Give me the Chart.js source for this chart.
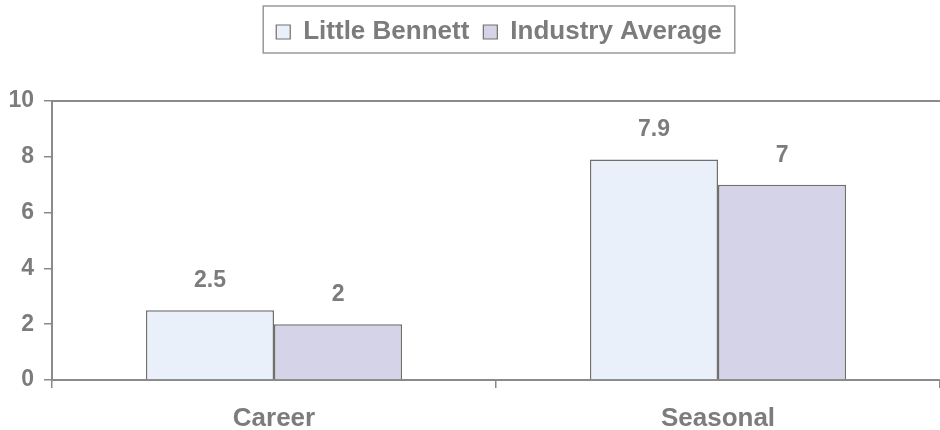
<!DOCTYPE html>
<html>
<head>
<meta charset="utf-8">
<script src="https://cdn.jsdelivr.net/npm/chart.js@4.4.1/dist/chart.umd.min.js"></script>
<style>
  html, body { margin: 0; padding: 0; background: #ffffff; }
  #wrap { width: 940px; height: 430px; }
</style>
</head>
<body>
<div id="wrap"><canvas id="c" width="940" height="430"></canvas></div>
<script>
// Staff turnover comparison, by employee type
const categories = ['Career', 'Seasonal'];
const seriesNames = ['Little Bennett', 'Industry Average'];
const littleBennett = [2.5, 7.9];
const industryAverage = [2, 7];
const yTicks = [0, 2, 4, 6, 8, 10];

const GREY = '#7c7c7c';
const LINE = '#8a8a8a';
const FONT = '"Liberation Sans", Arial, sans-serif';

// Legend gets a fixed band above the plot
const legendBand = {
  id: 'legendBand',
  beforeInit(chart) {
    const legend = chart.legend;
    const fit = legend.fit;
    legend.fit = function () {
      fit.call(this);
      this.height = 96;
    };
  },
  // centre the legend over the plot area rather than the whole canvas
  afterLayout(chart) {
    const legend = chart.legend;
    legend.left = chart.chartArea.left + 6;
    legend.width = legend.right - legend.left;
  }
};

// Value printed above each bar
const valueLabels = {
  id: 'valueLabels',
  afterDatasetsDraw(chart) {
    const ctx = chart.ctx;
    ctx.save();
    ctx.fillStyle = GREY;
    ctx.font = 'bold 23px ' + FONT;
    ctx.textAlign = 'center';
    ctx.textBaseline = 'bottom';
    chart.data.datasets.forEach((ds, di) => {
      chart.getDatasetMeta(di).data.forEach((bar, i) => {
        ctx.fillText(String(ds.data[i]), bar.x, bar.y - 18);
      });
    });
    ctx.restore();
  }
};

// Frame round the legend and the top edge of the plot
const frames = {
  id: 'frames',
  afterDraw(chart) {
    const ctx = chart.ctx;
    const a = chart.chartArea;
    ctx.save();
    ctx.strokeStyle = LINE;
    ctx.lineWidth = 2;
    ctx.beginPath();
    ctx.moveTo(a.left, a.top);
    ctx.lineTo(a.right, a.top);
    ctx.stroke();

    const legend = chart.legend;
    const w = legend.lineWidths[0];
    const cx = (legend.left + legend.right) / 2;
    const x0 = cx - w / 2 - 6;
    const x1 = cx + w / 2 + 6;
    ctx.lineWidth = 1.5;
    ctx.strokeStyle = '#9a9a9a';
    ctx.strokeRect(x0, 6, x1 - x0, 47);
    ctx.restore();
  }
};

new Chart(document.getElementById('c'), {
  type: 'bar',
  data: {
    labels: categories,
    datasets: [
      {
        label: seriesNames[0],
        data: littleBennett,
        backgroundColor: '#eaf0f9',
        borderColor: '#707070',
        borderWidth: 1.5,
        categoryPercentage: 0.577,
        barPercentage: 1.0
      },
      {
        label: seriesNames[1],
        data: industryAverage,
        backgroundColor: '#d5d3e8',
        borderColor: '#707070',
        borderWidth: 1.5,
        categoryPercentage: 0.577,
        barPercentage: 1.0
      }
    ]
  },
  options: {
    responsive: false,
    animation: false,
    devicePixelRatio: 1,
    layout: { padding: { left: 0, right: 0, top: 5, bottom: 0 } },
    plugins: {
      tooltip: { enabled: false },
      legend: {
        position: 'top',
        labels: {
          color: GREY,
          font: { family: FONT, size: 26, weight: 'bold' },
          boxWidth: 14,
          boxHeight: 14,
          padding: 14,
          generateLabels(chart) {
            return chart.data.datasets.map((ds, i) => ({
              text: ds.label,
              fillStyle: ds.backgroundColor,
              strokeStyle: '#707070',
              fontColor: GREY,
              lineWidth: 1.2,
              datasetIndex: i,
              hidden: false
            }));
          }
        }
      }
    },
    scales: {
      x: {
        grid: {
          display: true,
          drawOnChartArea: false,
          offset: true,
          tickLength: 8,
          color: LINE,
          lineWidth: 1.5
        },
        border: { display: true, color: LINE, width: 2 },
        ticks: {
          color: GREY,
          font: { family: FONT, size: 26, weight: 'bold' },
          padding: 15
        },
        afterFit(s) { s.height = 50; }
      },
      y: {
        min: 0,
        max: 10,
        afterBuildTicks(s) { s.ticks = yTicks.map(v => ({ value: v })); },
        grid: {
          display: true,
          drawOnChartArea: false,
          tickLength: 8,
          color: LINE,
          lineWidth: 1.5
        },
        border: { display: true, color: LINE, width: 2 },
        ticks: {
          color: GREY,
          font: { family: FONT, size: 23, weight: 'bold' },
          padding: 10
        },
        afterFit(s) { s.width = 52; }
      }
    }
  },
  plugins: [legendBand, valueLabels, frames]
});
</script>
</body>
</html>
